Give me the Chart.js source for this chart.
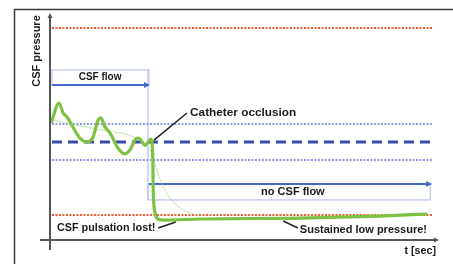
<!DOCTYPE html>
<html>
<head>
<meta charset="utf-8">
<script src="https://cdn.jsdelivr.net/npm/chart.js@4/dist/chart.umd.min.js"></script>
<style>
  html, body { margin: 0; padding: 0; background: #fff; }
  #wrap { width: 453px; height: 264px; position: relative; }
</style>
</head>
<body>
<div id="wrap"><canvas id="csfChart"></canvas></div>
<script>
// Pressure trace (time in arbitrary units 0..100, pressure 0..100)
const pressureT = [0.3, 2.3, 3.4, 4.4, 5.9, 7.7, 9.5, 11.1, 12.4, 13.1, 14.2, 15.5, 17.5, 19.3, 20.6, 22.4, 23.2, 24.5, 26.0, 26.5, 26.6, 27.1, 27.7, 29.6, 38.7, 64.4, 85.1, 97.2];
const pressureP = [51.8, 60.6, 56.2, 54.4, 50.0, 45.1, 43.4, 45.6, 53.1, 54.0, 50.0, 47.3, 40.7, 38.1, 39.8, 45.1, 44.7, 42.0, 44.7, 36.7, 22.1, 11.9, 9.3, 8.8, 9.3, 9.7, 10.6, 11.5];

// Faint smoothed trend
const trendT = [0.3, 12.9, 25.8, 27.1, 29.6, 33.5, 38.7];
const trendP = [53.1, 48.7, 39.8, 33.2, 22.1, 14.2, 10.6];

// Reference levels
const levelSpan = [0.5, 98.5];
const upperLimit = 93.8;
const lowerLimit = 11.1;
const normalHigh = 51.3;
const normalLow = 35.4;
const normalMean = 43.4;

// Flow arrows
const flowT = [0.5, 25.0];
const flowP = 68.6;
const noFlowT = [25.5, 97.7];
const noFlowP = 24.8;

const labels = ['CSF flow', 'Catheter occlusion', 'no CSF flow', 'CSF pulsation lost!', 'Sustained low pressure!'];
const axisLabels = ['t [sec]', 'CSF pressure'];

const pts = (xs, ys) => xs.map((x, i) => ({ x: x, y: Array.isArray(ys) ? ys[i] : ys }));

const FONT = '"Liberation Sans", Arial, sans-serif';

const decorPlugin = {
    id: 'decor',
    beforeDatasetsDraw(chart) {
        const { ctx, chartArea, scales } = chart;
        const X = v => scales.x.getPixelForValue(v);
        const Y = v => scales.y.getPixelForValue(v);
        ctx.save();
        // outer frame
        ctx.strokeStyle = '#3a3a3a';
        ctx.lineWidth = 1.5;
        ctx.beginPath();
        ctx.moveTo(14.5, 270);
        ctx.lineTo(14.5, 9.5);
        ctx.lineTo(460, 9.5);
        ctx.stroke();

        // flow boxes
        ctx.strokeStyle = '#b9c3ec';
        ctx.lineWidth = 1.2;
        ctx.strokeRect(X(flowT[0]), Y(flowP) - 15, X(flowT[1] + 0.5) - X(flowT[0]), 15);
        ctx.strokeRect(X(noFlowT[0]) - 1, Y(noFlowP), X(noFlowT[1] + 0.3) - X(noFlowT[0]) + 1, 16);
        ctx.beginPath();
        ctx.moveTo(X(noFlowT[0]) - 1, Y(flowP) - 15);
        ctx.lineTo(X(noFlowT[0]) - 1, Y(noFlowP) + 16);
        ctx.stroke();
        ctx.restore();
    },
    afterDatasetsDraw(chart) {
        const { ctx, chartArea, scales } = chart;
        const X = v => scales.x.getPixelForValue(v);
        const Y = v => scales.y.getPixelForValue(v);
        ctx.save();

        // arrowheads on flow lines
        const head = (x, y, color) => {
            ctx.fillStyle = color;
            ctx.beginPath();
            ctx.moveTo(x + 3, y);
            ctx.lineTo(x - 3, y - 3);
            ctx.lineTo(x - 3, y + 3);
            ctx.closePath();
            ctx.fill();
        };
        head(X(flowT[1]), Y(flowP), '#4667c9');
        head(X(noFlowT[1]), Y(noFlowP), '#4667c9');

        // axes
        ctx.strokeStyle = '#555';
        ctx.fillStyle = '#555';
        ctx.lineWidth = 2;
        ctx.beginPath();
        ctx.moveTo(chartArea.left, chartArea.bottom + 10);
        ctx.lineTo(chartArea.left, chartArea.top + 2);
        ctx.moveTo(chartArea.left - 10, chartArea.bottom);
        ctx.lineTo(chartArea.right - 2, chartArea.bottom);
        ctx.stroke();
        ctx.beginPath();
        ctx.moveTo(chartArea.left, chartArea.top - 1);
        ctx.lineTo(chartArea.left - 2.5, chartArea.top + 4);
        ctx.lineTo(chartArea.left + 2.5, chartArea.top + 4);
        ctx.closePath();
        ctx.fill();
        ctx.beginPath();
        ctx.moveTo(chartArea.right + 1, chartArea.bottom);
        ctx.lineTo(chartArea.right - 4, chartArea.bottom - 2.5);
        ctx.lineTo(chartArea.right - 4, chartArea.bottom + 2.5);
        ctx.closePath();
        ctx.fill();

        // annotation leader lines
        ctx.strokeStyle = '#222';
        ctx.lineWidth = 1.5;
        ctx.beginPath();
        ctx.moveTo(X(26.8), Y(44.2)); ctx.lineTo(X(35.3), Y(56.2));
        ctx.moveTo(X(27.9), Y(5.3)); ctx.lineTo(X(32.4), Y(8.0));
        ctx.moveTo(X(60.1), Y(8.4)); ctx.lineTo(X(63.9), Y(5.3));
        ctx.stroke();

        // texts
        ctx.fillStyle = '#1a1a1a';
        ctx.textBaseline = 'middle';
        ctx.font = 'bold 10px ' + FONT;
        ctx.textAlign = 'center';
        ctx.fillText(labels[0], X(12.9), Y(72.1));
        ctx.font = 'bold 11px ' + FONT;
        ctx.fillText(labels[2], X(62.6), Y(21.2));
        ctx.textAlign = 'left';
        ctx.font = 'bold 11.8px ' + FONT;
        ctx.fillText(labels[1], X(36.1), Y(56.2));
        ctx.font = 'bold 10.8px ' + FONT;
        ctx.fillText(labels[3], X(1.8), Y(5.3));
        ctx.font = 'bold 11px ' + FONT;
        ctx.fillText(labels[4], X(64.4), Y(4.4));
        ctx.textAlign = 'right';
        ctx.font = 'bold 10.7px ' + FONT;
        ctx.fillText(axisLabels[0], chartArea.right - 2, chartArea.bottom + 11);

        ctx.save();
        ctx.translate(chartArea.left - 13, chartArea.top + 37);
        ctx.rotate(-Math.PI / 2);
        ctx.textAlign = 'center';
        ctx.font = 'bold 11px ' + FONT;
        ctx.fillText(axisLabels[1], 0, 0);
        ctx.restore();

        ctx.restore();
    }
};

new Chart(document.getElementById('csfChart'), {
    type: 'line',
    data: {
        datasets: [
            {
                label: 'CSF pressure',
                data: pts(pressureT, pressureP),
                borderColor: '#7dc242',
                borderWidth: 3.2,
                cubicInterpolationMode: 'monotone',
                pointRadius: 0,
                order: 0
            },
            {
                label: 'trend',
                data: pts(trendT, trendP),
                borderColor: 'rgba(175, 215, 130, 0.7)',
                borderWidth: 1,
                cubicInterpolationMode: 'monotone',
                pointRadius: 0,
                order: 1
            },
            {
                label: 'upper limit',
                data: pts(levelSpan, upperLimit),
                borderColor: '#ef5a30',
                borderWidth: 2,
                borderDash: [2, 1.5],
                pointRadius: 0,
                order: 3
            },
            {
                label: 'lower limit',
                data: pts(levelSpan, lowerLimit),
                borderColor: '#ef5a30',
                borderWidth: 2,
                borderDash: [2, 1.5],
                pointRadius: 0,
                order: 3
            },
            {
                label: 'normal high',
                data: pts(levelSpan, normalHigh),
                borderColor: '#6a78d4',
                borderWidth: 1.5,
                borderDash: [2, 1.5],
                pointRadius: 0,
                order: 4
            },
            {
                label: 'normal low',
                data: pts(levelSpan, normalLow),
                borderColor: '#6a78d4',
                borderWidth: 1.5,
                borderDash: [2, 1.5],
                pointRadius: 0,
                order: 4
            },
            {
                label: 'mean',
                data: pts(levelSpan, normalMean),
                borderColor: '#3848a8',
                borderWidth: 3,
                borderDash: [10, 6],
                pointRadius: 0,
                order: 2
            },
            {
                label: 'CSF flow',
                data: pts(flowT, flowP),
                borderColor: '#4667c9',
                borderWidth: 2,
                pointRadius: 0,
                order: 2
            },
            {
                label: 'no CSF flow',
                data: pts(noFlowT, noFlowP),
                borderColor: '#4667c9',
                borderWidth: 2,
                pointRadius: 0,
                order: 2
            }
        ]
    },
    options: {
        responsive: true,
        maintainAspectRatio: false,
        animation: false,
        layout: {
            padding: { left: 50, right: 15, top: 14, bottom: 24 }
        },
        plugins: {
            legend: { display: false },
            tooltip: { enabled: false }
        },
        scales: {
            x: { type: 'linear', min: 0, max: 100, display: false },
            y: { type: 'linear', min: 0, max: 100, display: false }
        }
    },
    plugins: [decorPlugin]
});
</script>
</body>
</html>
